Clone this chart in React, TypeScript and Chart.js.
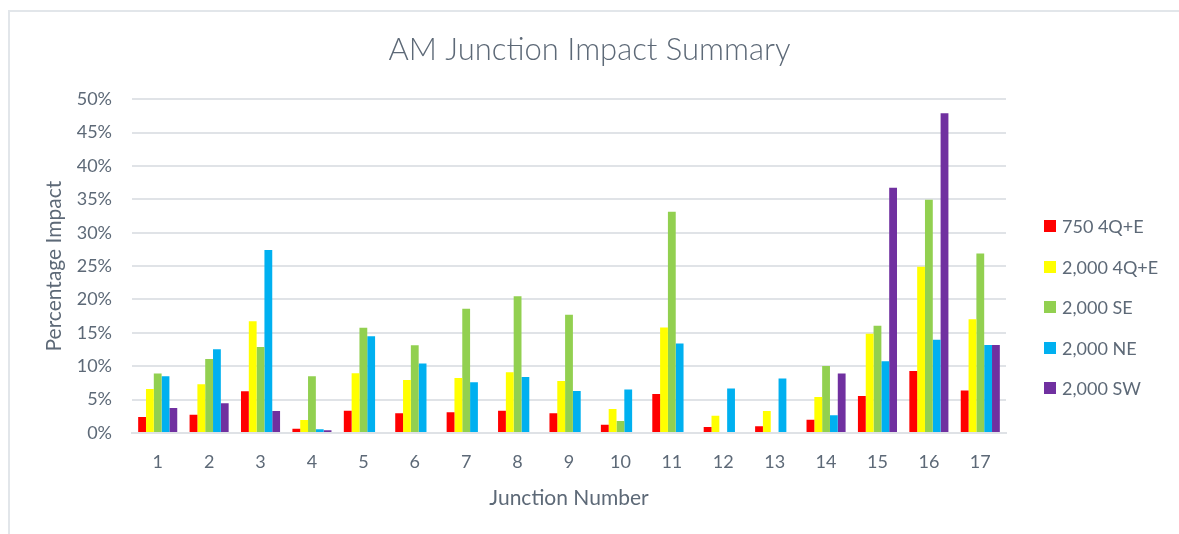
import React, { useEffect, useRef } from "react";
import { Chart, registerables } from "chart.js";

Chart.register(...registerables);

const junctions = ["1", "2", "3", "4", "5", "6", "7", "8", "9", "10", "11", "12", "13", "14", "15", "16", "17"];
const seriesNames = ["750 4Q+E", "2,000 4Q+E", "2,000 SE", "2,000 NE", "2,000 SW"];
const seriesColors = ["#FF0000", "#FFFF00", "#92D050", "#00B0F0", "#7030A0"];

const red750 = [2.4, 2.75, 6.25, 0.65, 3.35, 2.95, 3.1, 3.35, 2.95, 1.25, 5.85, 0.9, 1.0, 2.0, 5.55, 9.3, 6.35];
const yellow4QE = [6.6, 7.3, 16.75, 1.95, 8.95, 7.95, 8.25, 9.1, 7.8, 3.6, 15.8, 2.6, 3.3, 5.4, 14.85, 24.9, 17.05];
const greenSE = [8.9, 11.1, 12.9, 8.5, 15.75, 13.15, 18.6, 20.5, 17.7, 1.8, 33.15, 0, 0, 10.05, 16.05, 34.95, 26.9];
const blueNE = [8.5, 12.55, 27.4, 0.55, 14.5, 10.4, 7.6, 8.4, 6.3, 6.5, 13.4, 6.65, 8.15, 2.65, 10.75, 13.95, 13.2];
const purpleSW = [3.75, 4.45, 3.3, 0.4, 0, 0, 0, 0, 0, 0, 0, 0, 0, 8.9, 36.75, 47.9, 13.2];

const yTicks = [0, 5, 10, 15, 20, 25, 30, 35, 40, 45, 50];

const TEXT = "#5d6977";
const FONT = "Lato, 'Open Sans', sans-serif";

export default function App() {
  const ref = useRef<HTMLCanvasElement | null>(null);
  useEffect(() => {
    if (!ref.current) return;
    const all = [red750, yellow4QE, greenSE, blueNE, purpleSW];
    const chart = new Chart(ref.current, {
      type: "bar",
      data: {
        labels: junctions,
        datasets: all.map((d, i) => ({
          label: seriesNames[i],
          data: d,
          backgroundColor: seriesColors[i],
          borderWidth: 0,
          barPercentage: 1,
          categoryPercentage: 0.76,
        })),
      },
      options: {
        responsive: false,
        animation: false,
        layout: { padding: 0 },
        plugins: {
          legend: { display: false },
          tooltip: { enabled: false },
          title: {
            display: true,
            fullSize: true,
            text: "AM Junction Impact Summary",
            color: TEXT,
            font: { family: FONT, size: 31, weight: "300" as any, lineHeight: 1.2 },
            padding: { top: 31, bottom: 31 },
          },
        },
        scales: {
          x: {
            grid: { display: false, drawTicks: false },
            border: { display: true, color: "#dfe2e6", width: 2 },
            ticks: { color: TEXT, font: { family: FONT, size: 18 }, padding: 18 },
            title: {
              display: true,
              text: "Junction Number",
              color: TEXT,
              font: { family: FONT, size: 21, lineHeight: 1.2 },
              padding: { top: 0, bottom: 23 },
            },
            afterFit: (s: any) => {
              s.height = 101;
            },
          },
          y: {
            min: 0,
            max: 50,
            afterBuildTicks: (s: any) => {
              s.ticks = yTicks.map((v) => ({ value: v }));
            },
            grid: { color: "#e0e3e7", lineWidth: 2, drawTicks: false },
            border: { display: false },
            ticks: {
              color: TEXT,
              font: { family: FONT, size: 18 },
              padding: 20,
              callback: (v: any) => v + "%",
            },
            title: {
              display: true,
              text: "Percentage Impact",
              color: TEXT,
              font: { family: FONT, size: 21, lineHeight: 1.2 },
              padding: { top: 42, bottom: 0 },
            },
            afterFit: (s: any) => {
              s.width = 132;
            },
          },
          legendSpace: {
            type: "linear",
            position: "right",
            display: true,
            grid: { display: false, drawTicks: false },
            border: { display: false },
            ticks: { display: false },
            afterFit: (s: any) => {
              s.width = 173;
            },
          },
        },
      },
    });
    return () => chart.destroy();
  }, []);

  return (
    <div style={{ position: "absolute", left: 0, top: 0, width: 1179, height: 534, background: "#fff", overflow: "hidden" }}>
      <div
        style={{
          position: "absolute",
          left: 8,
          top: 10,
          width: 1200,
          height: 600,
          borderTop: "2px solid #e2e6ea",
          borderLeft: "2px solid #e2e6ea",
        }}
      />
      <canvas ref={ref} width={1179} height={534} style={{ position: "absolute", left: 0, top: 0 }} />
      {seriesNames.map((n, i) => (
        <div
          key={n}
          style={{
            position: "absolute",
            left: 1044,
            top: 226 + i * 40.5 - 12,
            height: 24,
            display: "flex",
            alignItems: "center",
            fontFamily: FONT,
            fontSize: 18,
            color: TEXT,
            whiteSpace: "nowrap",
          }}
        >
          <span style={{ display: "inline-block", width: 12, height: 12, background: seriesColors[i], marginRight: 6 }} />
          {n}
        </div>
      ))}
    </div>
  );
}
